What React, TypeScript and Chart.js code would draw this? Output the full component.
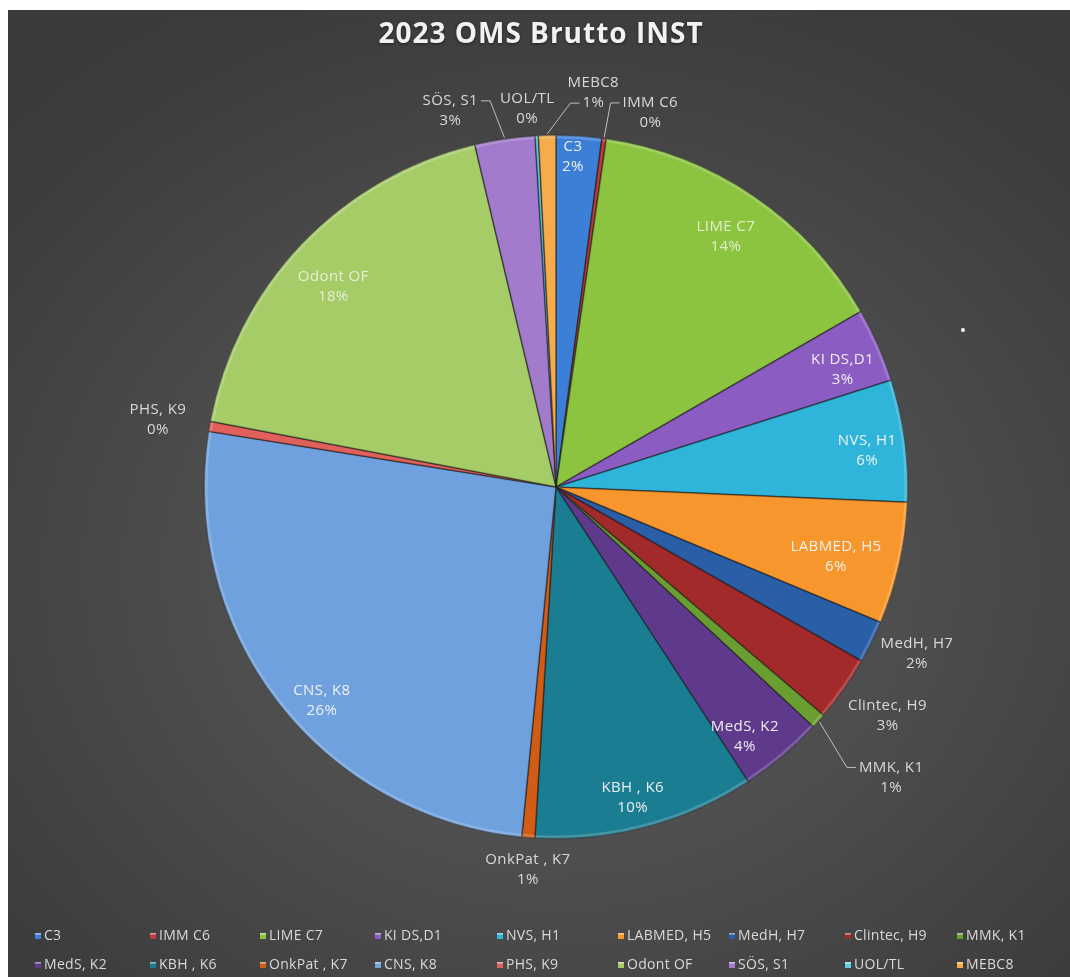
import React, { useEffect, useRef } from "react";
import { Chart, registerables } from "chart.js";

Chart.register(...registerables);

const TITLE = "2023 OMS Brutto INST";

const categories = [
  "C3", "IMM C6", "LIME C7", "KI DS,D1", "NVS, H1", "LABMED, H5",
  "MedH, H7", "Clintec, H9", "MMK, K1", "MedS, K2", "KBH , K6", "OnkPat , K7",
  "CNS, K8", "PHS, K9", "Odont OF", "SÖS, S1", "UOL/TL", "MEBC8",
];

const shares = [
  2.08, 0.2, 14.4, 3.4, 5.6, 5.6,
  1.95, 3.0, 0.7, 3.86, 10.15, 0.6,
  25.97, 0.46, 18.3, 2.76, 0.15, 0.8,
];

const sliceColors = [
  "#3b80d6", "#c0393b", "#8cc43f", "#8b5cc2", "#2fb4da", "#f7962c",
  "#2a5ea6", "#a22a2a", "#6b9e30", "#5f3a8c", "#1b7d92", "#d05c15",
  "#6fa1de", "#e0605c", "#a6cc68", "#a27bcc", "#5fcde8", "#f6ac4a",
];

// label placement style: rf = distance as fraction of radius, da = angle nudge (deg),
// leader = draw leader line, tl = line of text the leader points to
const labelPlacement = [
  { rf: 0.94, da: -0.8 },
  { rf: 1.096, da: 6.3, leader: true, tl: 0 },
  { rf: 0.86, da: 0 },
  { rf: 0.88, da: 1.5 },
  { rf: 0.89, da: 1 },
  { rf: 0.82, da: 1.5 },
  { rf: 1.13, da: -1.3 },
  { rf: 1.145, da: -0.4 },
  { rf: 1.26, da: -0.8, leader: true, tl: 0 },
  { rf: 0.89, da: 3 },
  { rf: 0.91, da: 1 },
  { rf: 1.09, da: -0.3 },
  { rf: 0.9, da: -4.7 },
  { rf: 1.147, da: -0.3 },
  { rf: 0.85, da: -1.8 },
  { rf: 1.11, da: -7.3, leader: true, tl: 0 },
  { rf: 1.077, da: -1.2 },
  { rf: 1.124, da: 6.85, leader: true, tl: 1 },
];

const FONT = "'Open Sans', 'DejaVu Sans', sans-serif";
const legendCols = [27, 142, 252, 367, 489, 610, 721, 837, 949];
const legendRows = [926, 955];

const customPlugin = {
  id: "customDraw",
  afterDatasetsDraw(chart: any) {
    const ctx = chart.ctx as CanvasRenderingContext2D;
    const meta = chart.getDatasetMeta(0);
    const data = chart.data.datasets[0].data as number[];
    const total = data.reduce((a, b) => a + b, 0);

    // bevel-like rim highlight
    meta.data.forEach((arc: any) => {
      const p = arc.getProps(["x", "y", "startAngle", "endAngle", "outerRadius"], true);
      ctx.save();
      ctx.beginPath();
      ctx.moveTo(p.x, p.y);
      ctx.arc(p.x, p.y, p.outerRadius, p.startAngle, p.endAngle);
      ctx.closePath();
      ctx.clip();
      ctx.strokeStyle = "rgba(255,255,255,0.18)";
      ctx.lineWidth = 5;
      ctx.beginPath();
      ctx.arc(p.x, p.y, p.outerRadius - 1, p.startAngle, p.endAngle);
      ctx.stroke();
      ctx.strokeStyle = "rgba(0,0,0,0.25)";
      ctx.lineWidth = 2;
      ctx.beginPath();
      ctx.moveTo(p.x, p.y);
      ctx.arc(p.x, p.y, p.outerRadius, p.startAngle, p.endAngle);
      ctx.closePath();
      ctx.stroke();
      ctx.restore();
    });

    ctx.save();
    ctx.font = `15px ${FONT}`;
    (ctx as any).letterSpacing = "0.4px";
    ctx.textAlign = "center";
    ctx.textBaseline = "middle";
    meta.data.forEach((arc: any, i: number) => {
      const p = arc.getProps(["x", "y", "startAngle", "endAngle", "outerRadius"], true);
      const pl = labelPlacement[i];
      const mid = (p.startAngle + p.endAngle) / 2;
      const a = mid + (pl.da * Math.PI) / 180;
      const d = p.outerRadius * pl.rf;
      const tx = p.x + Math.cos(a) * d;
      const ty = p.y + Math.sin(a) * d;
      const pct = Math.round((data[i] / total) * 100) + "%";
      const lines = [chart.data.labels[i] as string, pct];
      const inside = pl.rf < 1;
      ctx.fillStyle = inside ? "rgba(245,245,245,0.95)" : "#d9d9d9";
      if (i === 14 || i === 2) ctx.fillStyle = "rgba(240,245,232,0.85)";
      ctx.fillText(lines[0], tx, ty - 10);
      ctx.fillText(lines[1], tx, ty + 10);
      if (pl.leader) {
        const ex = p.x + Math.cos(mid) * (p.outerRadius + 1);
        const ey = p.y + Math.sin(mid) * (p.outerRadius + 1);
        const ly = ty + (pl.tl === 0 ? -10 : 10);
        const w = ctx.measureText(lines[pl.tl]).width;
        const right = tx > ex;
        const edge = right ? tx - w / 2 - 3 : tx + w / 2 + 3;
        const elbow = right ? edge - 9 : edge + 9;
        ctx.strokeStyle = "#bfbfbf";
        ctx.lineWidth = 1;
        ctx.beginPath();
        ctx.moveTo(ex, ey);
        ctx.lineTo(elbow, ly);
        ctx.lineTo(edge, ly);
        ctx.stroke();
      }
    });
    ctx.restore();
  },
  afterDraw(chart: any) {
    const ctx = chart.ctx as CanvasRenderingContext2D;
    const w = chart.width;
    // title
    ctx.save();
    ctx.font = `bold 28px ${FONT}`;
    (ctx as any).letterSpacing = "1px";
    ctx.textAlign = "center";
    ctx.textBaseline = "middle";
    ctx.fillStyle = "#f2f2f2";
    ctx.shadowColor = "rgba(0,0,0,0.5)";
    ctx.shadowBlur = 3;
    ctx.shadowOffsetY = 1;
    ctx.fillText(TITLE, w / 2 + 2, 25);
    ctx.restore();

    // legend
    const colors = chart.data.datasets[0].backgroundColor as string[];
    const labels = chart.data.labels as string[];
    ctx.save();
    ctx.font = `14px ${FONT}`;
    (ctx as any).letterSpacing = "0.3px";
    ctx.textBaseline = "middle";
    ctx.textAlign = "left";
    labels.forEach((lab, i) => {
      const col = i % 9;
      const row = Math.floor(i / 9);
      const x = legendCols[col];
      const y = legendRows[row];
      const g = ctx.createLinearGradient(0, y - 3, 0, y + 3);
      g.addColorStop(0, "rgba(255,255,255,0.5)");
      g.addColorStop(0.4, colors[i]);
      g.addColorStop(1, colors[i]);
      ctx.fillStyle = colors[i];
      ctx.fillRect(x, y - 3, 6, 6);
      ctx.fillStyle = g;
      ctx.fillRect(x, y - 3, 6, 6);
      ctx.fillStyle = "#d9d9d9";
      ctx.fillText(lab, x + 9, y);
    });
    ctx.restore();

    // small artifact dot
    ctx.save();
    ctx.fillStyle = "#ffffff";
    ctx.beginPath();
    ctx.ellipse(955, 320, 2, 2, 0, 0, Math.PI * 2);
    ctx.fill();
    ctx.restore();
  },
};

export default function App() {
  const canvasRef = useRef<HTMLCanvasElement | null>(null);

  useEffect(() => {
    if (!canvasRef.current) return;
    const chart = new Chart(canvasRef.current, {
      type: "pie",
      data: {
        labels: categories,
        datasets: [
          {
            data: shares,
            backgroundColor: sliceColors,
            borderColor: "rgba(40,40,40,0.55)",
            borderWidth: 1,
            hoverOffset: 0,
            offset: 0,
          },
        ],
      },
      options: {
        animation: false,
        responsive: true,
        maintainAspectRatio: false,
        devicePixelRatio: 1,
        radius: 352,
        layout: { padding: { left: 196, right: 162, top: 125, bottom: 138 } },
        plugins: {
          legend: { display: false },
          title: { display: false },
          tooltip: { enabled: false },
        },
        events: [],
      } as any,
      plugins: [customPlugin],
    });
    return () => chart.destroy();
  }, []);

  return (
    <div
      style={{
        position: "absolute",
        left: 8,
        top: 10,
        width: 1062,
        height: 967,
        background:
          "radial-gradient(ellipse 75% 70% at 52% 58%, #5c5c5c 0%, #4d4d4d 45%, #3d3d3d 85%, #3a3a3a 100%)",
      }}
    >
      <canvas ref={canvasRef} />
    </div>
  );
}
